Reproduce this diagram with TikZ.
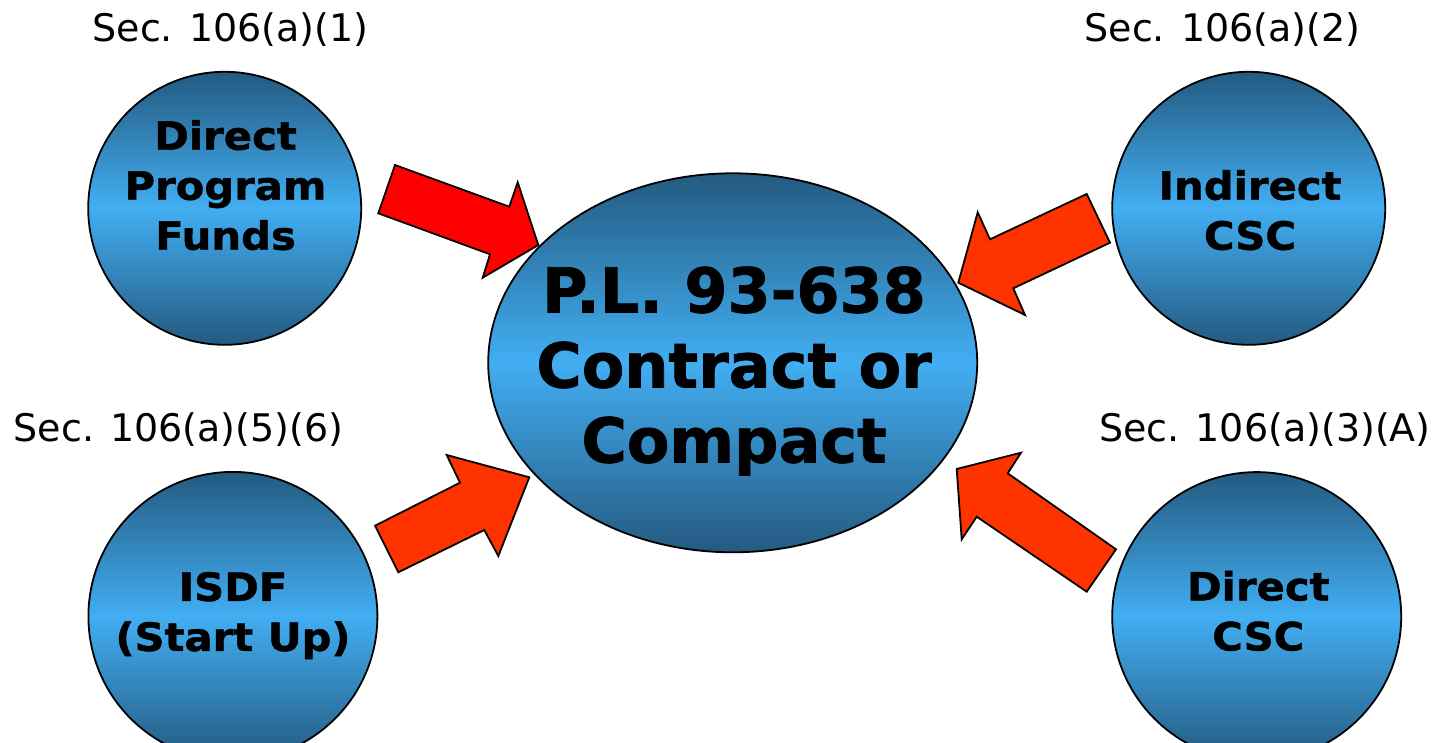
\documentclass[tikz,border=0pt]{standalone}
\usepackage{fontspec}
\setmainfont{DejaVu Sans}
\newfontfamily\circfont[FakeStretch=1.07,FakeBold=1.2]{DejaVu Sans Bold}
\newfontfamily\mainbold[FakeBold=1.2]{DejaVu Sans Bold}
\usetikzlibrary{shapes.geometric}
\definecolor{cdark}{RGB}{36,90,128}
\definecolor{clight}{RGB}{66,174,242}
\definecolor{arrred}{RGB}{255,0,0}
\definecolor{arrorange}{RGB}{255,51,0}
\tikzset{
  blob/.style={draw=black, line width=1.8pt, top color=cdark, bottom color=cdark, middle color=clight, inner sep=0pt},
  circtext/.style={font=\circfont\fontsize{39}{50}\selectfont, align=center, inner sep=0pt},
  maintext/.style={font=\mainbold\fontsize{62}{75}\selectfont, align=center, inner sep=0pt},
  seclabel/.style={font=\fontsize{38}{46}\selectfont, anchor=base, inner sep=0pt},
  blockarrow/.style={draw=black, line width=1.8pt, line join=miter},
}
\begin{document}
\begin{tikzpicture}[x=1pt,y=-1pt]
\useasboundingbox (0,0) rectangle (1439,743);
% circles
\node[blob, circle, minimum size=273pt] (c1) at (224.7,208.3) {};
\node[blob, circle, minimum size=273pt] (c2) at (1248.7,208.3) {};
\node[blob, circle, minimum size=289pt] (c3) at (232.9,616.4) {};
\node[blob, circle, minimum size=289pt] (c4) at (1256.7,616.6) {};
\node[blob, ellipse, minimum width=489pt, minimum height=379pt] (ctr) at (732.7,362.8) {};
% texts
\node[circtext] (t1) at (225.5,185.2) {Direct\\Program\\Funds};
\node[circtext] (t2) at (1250,210.2) {Indirect\\CSC};
\node[circtext] (t3) at (233,615.5) {ISDF\\(Start Up)};
\node[circtext] (t4) at (1258.3,610.9) {Direct\\CSC};
\node[maintext] (tc) at (734,371) {P.L. 93-638\\Contract or\\Compact};
\node[seclabel] (s1) at (230.5,41.7) {Sec. 106(a)(1)};
\node[seclabel] (s2) at (1222.5,41.7) {Sec. 106(a)(2)};
\node[seclabel] (s3) at (178.5,441.7) {Sec. 106(a)(5)(6)};
\node[seclabel] (s4) at (1265,441.7) {Sec. 106(a)(3)(A)};
% block arrows
\draw[blockarrow, fill=arrred] (395,165) -- (509.3,206.7) -- (517.7,182.3) -- (538.3,245) -- (482.7,277.7) -- (490,254.3) -- (378.3,213.3) -- cycle;
\draw[blockarrow, fill=arrorange] (1086.7,194) -- (1110,242.7) -- (1013.3,288.3) -- (1025,315) -- (958.3,282.7) -- (977.7,212.3) -- (990,239.3) -- cycle;
\draw[blockarrow, fill=arrorange] (375,525.7) -- (398.3,572.3) -- (484.3,530) -- (498.3,556) -- (529.3,477.3) -- (446.7,455) -- (460,482.7) -- cycle;
\draw[blockarrow, fill=arrorange] (956.7,469) -- (1021,452.7) -- (1007.7,473.3) -- (1116,549.3) -- (1086.7,591.7) -- (976.7,516.7) -- (961.7,539.3) -- cycle;
\end{tikzpicture}
\end{document}
